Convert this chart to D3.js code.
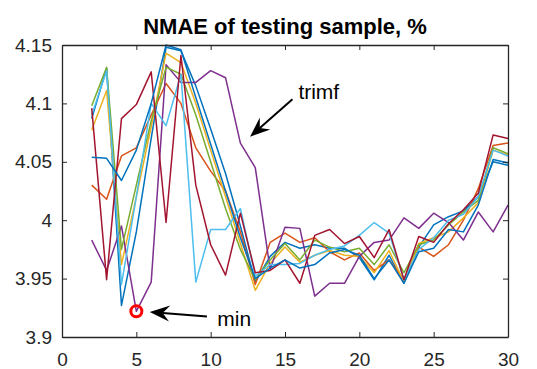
<!DOCTYPE html>
<html>
<head>
<meta charset="UTF-8">
<script src="https://d3js.org/d3.v7.min.js"></script>
<style>
  body { margin: 0; background: #fff; }
  svg { font-family: "Liberation Sans", Arial, sans-serif; }
</style>
</head>
<body>
<svg width="537" height="369"></svg>
<script>
// x positions (number of membership functions)
const xs = [2,3,4,5,6,7,8,9,10,11,12,13,14,15,16,17,18,19,20,21,22,23,24,25,26,27,28,29,30];

// NMAE of testing sample, % — one array per curve
const blue1  = [4.087,4.130,3.927,3.990,4.070,4.148,4.145,4.115,4.078,4.040,3.995,3.947,3.969,3.981,3.976,3.979,3.976,3.976,3.968,3.949,3.970,3.946,3.977,3.996,4.003,4.008,4.020,4.050,4.047];
const orange = [4.030,4.018,4.055,4.062,4.090,4.117,4.100,4.062,4.042,4.025,3.990,3.945,3.981,3.989,3.981,3.985,3.973,3.966,3.972,3.957,3.966,3.949,3.977,3.969,3.979,4.000,4.027,4.064,4.066];
const yellow = [4.077,4.111,3.962,4.020,4.080,4.143,4.135,4.100,4.060,4.020,3.980,3.940,3.963,3.977,3.964,3.970,3.974,3.970,3.969,3.955,3.974,3.947,3.980,3.985,3.990,4.002,4.015,4.060,4.056];
const purple = [3.983,3.957,3.995,3.922,3.947,4.133,4.118,4.118,4.128,4.122,4.066,4.045,3.958,3.994,3.993,3.935,3.946,3.946,3.969,3.981,3.983,4.002,3.993,4.006,3.998,3.983,4.007,3.990,4.013];
const green  = [4.098,4.131,3.975,4.030,4.085,4.131,4.125,4.090,4.050,4.010,3.975,3.949,3.966,3.980,3.966,3.983,3.977,3.973,3.976,3.962,3.979,3.955,3.979,3.983,3.996,4.007,4.017,4.062,4.057];
const ltblue = [4.090,4.128,3.945,4.020,4.100,4.081,4.125,3.947,3.992,3.992,4.010,3.952,3.962,3.962,3.963,3.970,3.975,3.978,3.987,3.998,3.989,3.949,3.975,3.985,4.000,4.005,4.020,4.060,4.055];
const red    = [4.096,3.949,4.087,4.099,4.127,3.998,4.141,4.030,3.979,3.953,4.006,3.955,3.957,3.966,3.946,3.987,3.992,3.980,3.986,3.968,3.992,3.949,3.986,3.981,3.997,4.009,4.023,4.073,4.070];
const blue2  = [4.054,4.053,4.034,4.060,4.100,4.150,4.146,4.105,4.065,4.025,3.985,3.950,3.959,3.966,3.959,3.962,3.972,3.975,3.970,3.950,3.966,3.946,3.973,3.976,3.992,3.990,4.013,4.052,4.049];

const seriesList = [blue1, orange, yellow, purple, green, ltblue, red, blue2];
const colors = ["#0072BD","#D95319","#EDB120","#7E2F8E","#77AC30","#4DBEEE","#A2142F","#0072BD"];

const xTicks = [0,5,10,15,20,25,30];
const yTicks = [3.9,3.95,4,4.05,4.1,4.15];

const minPoint = {x: 5, y: 3.922};

const svg = d3.select("svg");
const margin = {top: 45, right: 29, bottom: 32, left: 62};
const width = 537, height = 369;

const x = d3.scaleLinear().domain([0, 30]).range([margin.left, width - margin.right]);
const y = d3.scaleLinear().domain([3.9, 4.15]).range([height - margin.bottom, margin.top]);

const axisColor = "#262626";
const fmt = d => String(+d.toFixed(2));

// lines
const line = d3.line().x((d, i) => x(xs[i])).y(d => y(d));
svg.append("g").selectAll("path")
  .data(seriesList)
  .join("path")
  .attr("d", line)
  .attr("fill", "none")
  .attr("stroke", (d, i) => colors[i])
  .attr("stroke-width", 1.5)
  .attr("stroke-linejoin", "round");

// min marker
svg.append("circle")
  .attr("cx", x(minPoint.x))
  .attr("cy", y(minPoint.y))
  .attr("r", 5.5)
  .attr("fill", "none")
  .attr("stroke", "#ff0000")
  .attr("stroke-width", 3);

// axes (box with inward ticks)
function styleAxis(g) {
  g.selectAll("path.domain").attr("stroke", axisColor).attr("stroke-width", 1.3);
  g.selectAll(".tick line").attr("stroke", axisColor).attr("stroke-width", 1);
  g.selectAll(".tick text").attr("fill", axisColor).style("font-size", "19px");
}

svg.append("g")
  .attr("transform", `translate(0,${height - margin.bottom})`)
  .call(d3.axisBottom(x).tickValues(xTicks).tickSizeInner(-5).tickSizeOuter(0).tickPadding(16))
  .call(styleAxis);

svg.append("g")
  .attr("transform", `translate(0,${margin.top})`)
  .call(d3.axisTop(x).tickValues(xTicks).tickSizeInner(-5).tickSizeOuter(0).tickFormat(""))
  .call(styleAxis);

svg.append("g")
  .attr("transform", `translate(${margin.left},0)`)
  .call(d3.axisLeft(y).tickValues(yTicks).tickSizeInner(-5).tickSizeOuter(0).tickPadding(10).tickFormat(fmt))
  .call(styleAxis);

svg.append("g")
  .attr("transform", `translate(${width - margin.right},0)`)
  .call(d3.axisRight(y).tickValues(yTicks).tickSizeInner(-5).tickSizeOuter(0).tickFormat(""))
  .call(styleAxis);

svg.selectAll("text").attr("font-family", null);

// title
svg.append("text")
  .attr("x", (x(0) + x(30)) / 2)
  .attr("y", 34)
  .attr("text-anchor", "middle")
  .style("font-size", "22px")
  .style("font-weight", "bold")
  .attr("fill", "#000")
  .text("NMAE of testing sample, %");

// annotation arrows
function arrow(x1, y1, x2, y2) {
  const dx = x2 - x1, dy = y2 - y1;
  const len = Math.hypot(dx, dy);
  const ux = dx / len, uy = dy / len;
  const px = -uy, py = ux;
  const hl = 20, hw = 8, notch = 13;
  svg.append("line")
    .attr("x1", x1).attr("y1", y1)
    .attr("x2", x2 - ux * notch).attr("y2", y2 - uy * notch)
    .attr("stroke", "#000").attr("stroke-width", 2);
  const pts = [
    [x2, y2],
    [x2 - ux * hl + px * hw, y2 - uy * hl + py * hw],
    [x2 - ux * notch, y2 - uy * notch],
    [x2 - ux * hl - px * hw, y2 - uy * hl - py * hw]
  ];
  svg.append("polygon")
    .attr("points", pts.map(p => p.join(",")).join(" "))
    .attr("fill", "#000");
}

arrow(x(9.75), y(3.9175), x(5.9), y(3.9215));
arrow(x(15.5), y(4.1035), x(12.65), y(4.0715));

svg.append("text")
  .attr("x", x(10.45)).attr("y", y(3.9095))
  .style("font-size", "21px").attr("fill", "#000")
  .text("min");

svg.append("text")
  .attr("x", x(15.9)).attr("y", y(4.1035))
  .style("font-size", "21px").attr("fill", "#000")
  .text("trimf");
</script>
</body>
</html>
